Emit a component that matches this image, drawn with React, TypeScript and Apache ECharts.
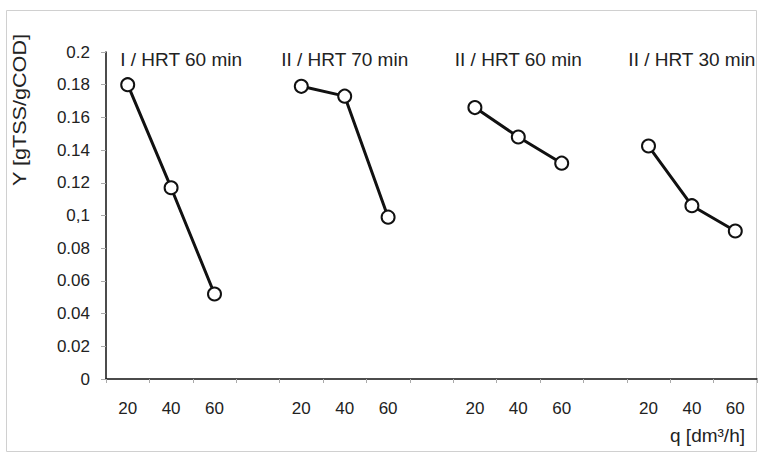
import React, { useEffect, useRef } from "react";
import * as echarts from "echarts";

const qValues = ["20", "40", "60"];
const groupLabels = ["I / HRT 60 min", "II / HRT 70 min", "II / HRT 60 min", "II / HRT 30 min"];
const group1 = [0.18, 0.117, 0.052];
const group2 = [0.179, 0.173, 0.099];
const group3 = [0.166, 0.148, 0.132];
const group4 = [0.1425, 0.106, 0.0905];
const yTickLabels: Record<string, string> = {
  "0": "0", "0.02": "0.02", "0.04": "0.04", "0.06": "0.06", "0.08": "0.08",
  "0.1": "0,1", "0.12": "0.12", "0.14": "0.14", "0.16": "0.16", "0.18": "0.18", "0.2": "0.2",
};
const yAxisName = "Y [gTSS/gCOD]";
const xAxisName = "q [dm³/h]";

const groups = [group1, group2, group3, group4];

export default function App() {
  const ref = useRef<HTMLDivElement>(null);
  useEffect(() => {
    if (!ref.current) return;
    const chart = echarts.init(ref.current, null, { renderer: "svg" });
    const categories: string[] = [];
    const values: (number | null)[] = [];
    groups.forEach((g, gi) => {
      g.forEach((v, i) => {
        categories.push(qValues[i]);
        values.push(v);
      });
      if (gi < groups.length - 1) {
        categories.push(" ");
        values.push(null);
      }
    });
    const font = "Liberation Sans, Arial, sans-serif";
    chart.setOption({
      animation: false,
      backgroundColor: "#fff",
      grid: { left: 106, right: 3, top: 52, bottom: 79, containLabel: false },
      xAxis: {
        type: "category",
        data: categories.map((c, i) => ({ value: c + "_" + i })),
        boundaryGap: true,
        axisLine: { lineStyle: { color: "#111", width: 1.5 } },
        axisTick: { show: true, length: 4, lineStyle: { color: "#aaa" }, interval: 0 },
        axisLabel: {
          interval: 0,
          margin: 21,
          color: "#222",
          fontSize: 17,
          fontFamily: font,
          formatter: (v: string) => v.split("_")[0],
        },
        splitLine: { show: false },
      },
      yAxis: {
        type: "value",
        min: 0,
        max: 0.2,
        interval: 0.02,
        axisLine: { show: true, lineStyle: { color: "#111", width: 1.5 } },
        axisTick: { show: true, length: 5, lineStyle: { color: "#aaa" } },
        axisLabel: {
          color: "#222",
          fontSize: 17,
          fontFamily: font,
          margin: 16,
          formatter: (v: number) => yTickLabels[String(Math.round(v * 100) / 100)] ?? String(v),
        },
        splitLine: { show: false },
      },
      series: [
        {
          type: "line",
          data: values,
          connectNulls: false,
          symbol: "circle",
          symbolSize: 13,
          lineStyle: { color: "#111", width: 3 },
          itemStyle: { color: "#fff", borderColor: "#111", borderWidth: 2 },
          z: 3,
        },
      ],
      graphic: [
        {
          id: "border",
          type: "rect",
          shape: { x: 6.5, y: 10.5, width: 750, height: 441 },
          style: { fill: "none", stroke: "#d0d0d0", lineWidth: 1 },
          silent: true,
          z: -1,
        },
        {
          id: "yname",
          type: "text",
          x: 20,
          y: 110,
          rotation: Math.PI / 2,
          scaleX: 1.2,
          style: {
            text: yAxisName,
            fontSize: 18,
            fontFamily: font,
            fill: "#222",
            align: "center",
            verticalAlign: "middle",
          },
        },
        {
          id: "xname",
          type: "text",
          x: 745,
          y: 435,
          style: {
            text: xAxisName,
            fontSize: 19,
            fontFamily: font,
            fill: "#222",
            align: "right",
            verticalAlign: "middle",
          },
        },
      ],
    });
    const labelGraphics = groupLabels.map((t, gi) => {
      const idx = gi * 4 + 1;
      const px = chart.convertToPixel({ xAxisIndex: 0 }, categories[idx] + "_" + idx) as number;
      return {
        id: "glabel" + gi,
        type: "text",
        x: px + (gi === 0 ? 10 : 0),
        y: 59,
        style: {
          text: t,
          fontSize: 19,
          fontFamily: font,
          fill: "#222",
          align: "center",
          verticalAlign: "middle",
        },
      };
    });
    chart.setOption({ graphic: labelGraphics });
    return () => chart.dispose();
  }, []);
  return (
    <div
      ref={ref}
      style={{ position: "fixed", left: 0, top: 0, width: 760, height: 458 }}
    />
  );
}
